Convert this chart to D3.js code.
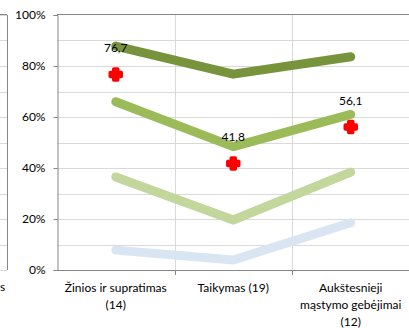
<!DOCTYPE html>
<html><head><meta charset="utf-8">
<script src="https://cdn.jsdelivr.net/npm/d3@7"></script>
<style>body{margin:0;background:#fff}svg{display:block}</style>
</head><body>
<svg id="c" width="409" height="328"></svg>
<script>
const categories = [["Žinios ir supratimas","(14)"],["Taikymas (19)"],["Aukštesnieji","mąstymo gebėjimai","(12)"]];
const seriesTop = [87.8, 76.8, 83.6];
const seriesUpperMid = [66.0, 48.4, 61.0];
const seriesLowerMid = [36.5, 19.6, 38.4];
const seriesBottom = [7.8, 3.9, 18.5];
const markerValues = [76.7, 41.8, 56.1];
const markerLabels = ["76,7","41,8","56,1"];
const yTicks = [0,20,40,60,80,100];
const yMinor = [10,30,50,70,90];
const colors = ["#77933C","#9BBB59","#C3D69B","#DAE5F4"];

const svg = d3.select("#c");
const font = "Lato, 'Open Sans', sans-serif";
const x0 = 57, x1 = 410, yTop = 15, yBot = 270;
const y = d3.scaleLinear().domain([0,100]).range([yBot,yTop]);
const xb = d3.scaleBand().domain(d3.range(3)).range([x0, x0+3*117.5]);
const xc = i => xb(i) + xb.bandwidth()/2;

// left partial chart remnant
const g0 = svg.append("g");
[...yTicks,...yMinor].forEach(v=>{
  g0.append("line").attr("x1",0).attr("x2",7).attr("y1",Math.round(y(v))+0.5).attr("y2",Math.round(y(v))+0.5).attr("stroke","#D9D9D9");
});
g0.append("line").attr("x1",7.5).attr("x2",7.5).attr("y1",yTop).attr("y2",yBot).attr("stroke","#868686");
g0.append("line").attr("x1",0).attr("x2",7).attr("y1",yTop-0.5).attr("y2",yTop-0.5).attr("stroke","#868686");
g0.append("text").attr("x",0).attr("y",291).text("s").attr("font-family",font).attr("font-size",12).attr("fill","#000");

// gridlines
[...yTicks,...yMinor].filter(v=>v>0 && v<100).forEach(v=>{
  svg.append("line").attr("x1",x0).attr("x2",x1).attr("y1",Math.round(y(v))+0.5).attr("y2",Math.round(y(v))+0.5).attr("stroke","#D9D9D9");
});
[1,2].forEach(i=>{
  svg.append("line").attr("x1",Math.round(xb(i))+0.5).attr("x2",Math.round(xb(i))+0.5).attr("y1",yTop).attr("y2",yBot).attr("stroke","#D9D9D9");
});
svg.append("line").attr("x1",x0).attr("x2",x1).attr("y1",yTop-0.5).attr("y2",yTop-0.5).attr("stroke","#868686");

// axes
const ya = d3.axisLeft(y).tickValues(yTicks).tickFormat(d=>d+"%").tickSize(4).tickPadding(8);
const gy = svg.append("g").attr("transform",`translate(${x0+0.5},0)`).call(ya);
gy.select(".domain").attr("stroke","#868686");
gy.selectAll(".tick line").attr("stroke","#868686");
gy.selectAll("text").attr("font-family",font).attr("font-size",12).attr("fill","#000");

svg.append("line").attr("x1",x0).attr("x2",x1).attr("y1",yBot+0.5).attr("y2",yBot+0.5).attr("stroke","#868686");
[1,2].forEach(i=>{
  svg.append("line").attr("x1",Math.round(xb(i))+0.5).attr("x2",Math.round(xb(i))+0.5).attr("y1",yBot).attr("y2",yBot+5).attr("stroke","#868686");
});

categories.forEach((lines,i)=>{
  const t = svg.append("text").attr("text-anchor","middle").attr("font-family",font).attr("font-size",12).attr("fill","#000");
  lines.forEach((l,j)=>t.append("tspan").attr("x",xc(i)).attr("y",292+j*17).text(l));
});

// series lines
const line = d3.line().x((d,i)=>xc(i)).y(d=>y(d));
[seriesBottom, seriesLowerMid, seriesUpperMid, seriesTop].forEach((s,k)=>{
  svg.append("path").attr("d",line(s)).attr("fill","none")
    .attr("stroke",colors[3-k]).attr("stroke-width",9)
    .attr("stroke-linecap","round").attr("stroke-linejoin","round");
});

// markers
const plus = "M-2,-5.5 L2,-5.5 L2,-2 L5.5,-2 L5.5,2 L2,2 L2,5.5 L-2,5.5 L-2,2 L-5.5,2 L-5.5,-2 L-2,-2 Z";
markerValues.forEach((v,i)=>{
  svg.append("path").attr("d",plus).attr("transform",`translate(${xc(i)},${y(v)})`)
    .attr("fill","#FF0000").attr("stroke","#FF0000").attr("stroke-width",3.5).attr("stroke-linejoin","round");
  svg.append("text").attr("x",xc(i)).attr("y",y(v)-22).attr("text-anchor","middle")
    .attr("font-family",font).attr("font-size",12).attr("fill","#000").text(markerLabels[i]);
});
</script>
</body></html>
